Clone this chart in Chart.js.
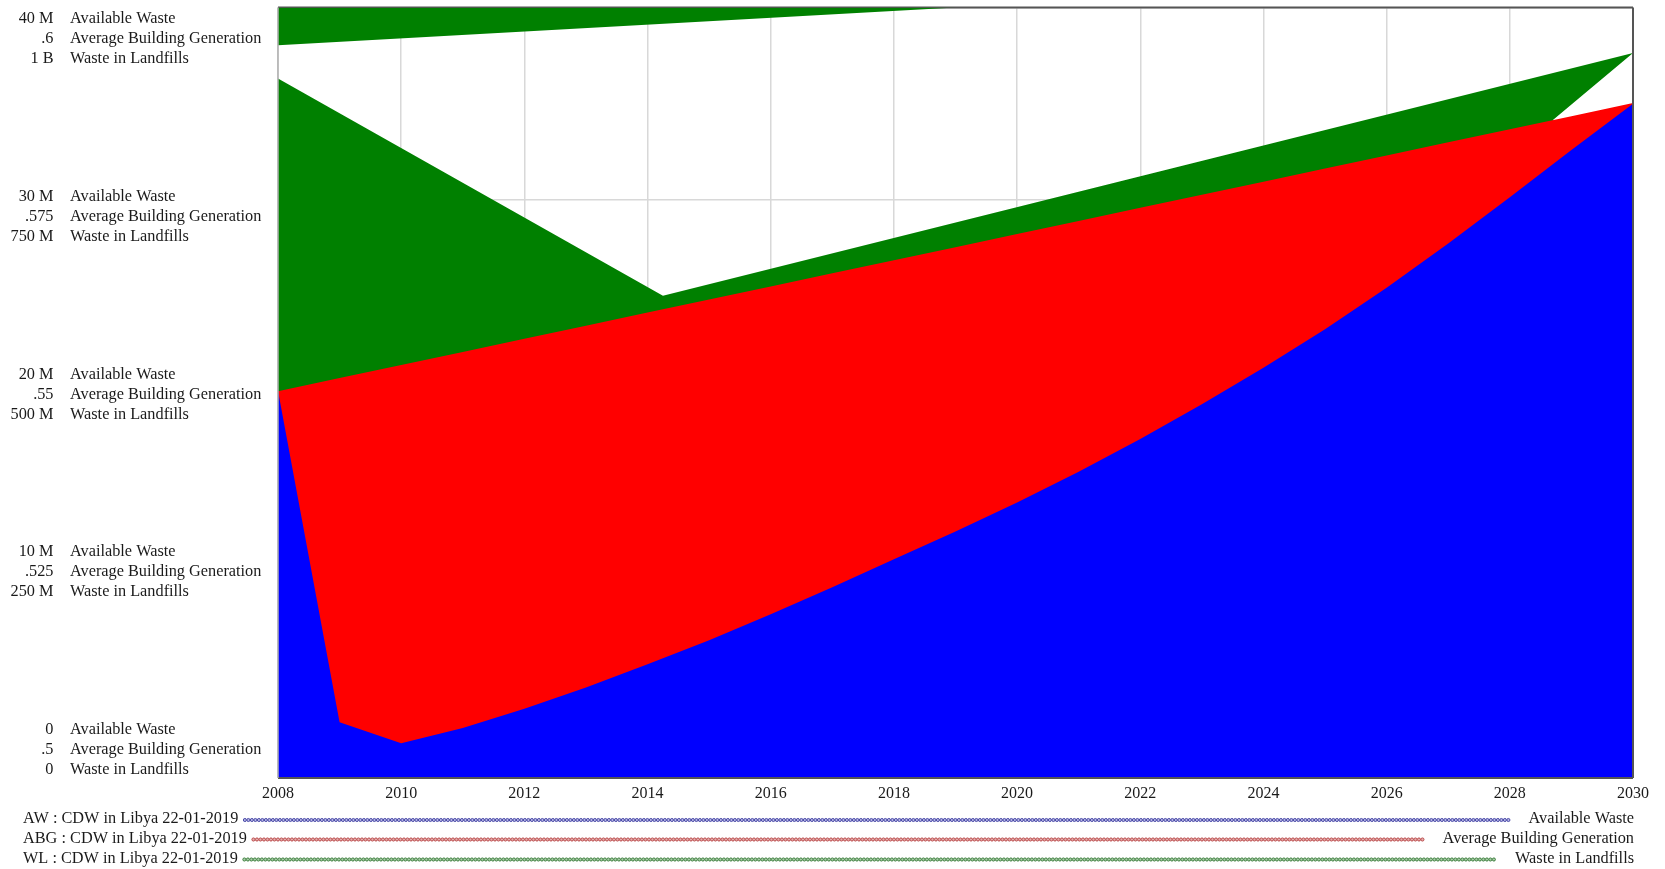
<!DOCTYPE html>
<html>
<head>
<meta charset="utf-8">
<title>CDW in Libya</title>
<script src="https://cdn.jsdelivr.net/npm/chart.js@4.4.1/dist/chart.umd.min.js"></script>
<style>
  html, body { margin: 0; padding: 0; background: #fff; overflow: hidden; }
  canvas { display: block; }
</style>
</head>
<body>
<canvas id="chart" width="1665" height="869"></canvas>
<script>
// ---- Simulation output: CDW in Libya, run 22-01-2019 ----
const years = [2008, 2009, 2010, 2011, 2012, 2013, 2014, 2015, 2016, 2017, 2018,
               2019, 2020, 2021, 2022, 2023, 2024, 2025, 2026, 2027, 2028, 2029, 2030];

// Available Waste (millions)
const availableWaste = [20.1, 2.9, 1.8, 2.6, 3.6, 4.7, 5.9, 7.15, 8.5, 9.9, 11.35,
                        12.8, 14.3, 15.9, 17.6, 19.4, 21.3, 23.3, 25.45, 27.75, 30.15, 32.6, 35.0];

// Average Building Generation
const avgBuildingGeneration = [0.5502, 0.5519, 0.5536, 0.5553, 0.5570, 0.5587, 0.5604, 0.5621,
                               0.5638, 0.5655, 0.5672, 0.5689, 0.5706, 0.5723, 0.5740, 0.5757,
                               0.5774, 0.5791, 0.5808, 0.5825, 0.5842, 0.5859, 0.5876];

// Waste in Landfills (billions)
const landfillYears = [2008, 2014.25, 2030];
const wasteInLandfills = [0.908, 0.626, 0.941];

// Waste in Landfills area that runs past the top of the 1 B scale
const landfillOverflowYears = [2008, 2019];
const landfillOverflow = [0.951, 1.0];

// Lower edge of the Waste in Landfills area near the end of the run
const landfillEdgeYears = [2008, 2028, 2028.7, 2030];
const landfillEdge = [0, 0, 0.854, 0.941];

// Axis ticks
const xTickValues = [2008, 2010, 2012, 2014, 2016, 2018, 2020, 2022, 2024, 2026, 2028, 2030];
const xTickLabels = ['2008', '2010', '2012', '2014', '2016', '2018', '2020', '2022', '2024', '2026', '2028', '2030'];
const awTickValues = [0, 10, 20, 30, 40];
const awTicks = ['0', '10 M', '20 M', '30 M', '40 M'];
const abgTicks = ['.5', '.525', '.55', '.575', '.6'];
const wlTicks = ['0', '250 M', '500 M', '750 M', '1 B'];

const seriesNames = ['Available Waste', 'Average Building Generation', 'Waste in Landfills'];
const runLabels = ['AW : CDW in Libya 22-01-2019', 'ABG : CDW in Libya 22-01-2019', 'WL : CDW in Libya 22-01-2019'];

const BLUE = '#0000ff', RED = '#ff0000', GREEN = '#008000';
const TEXT = '#1a1a1a';
const FONT = '"Liberation Serif", "Times New Roman", serif';
const LABEL_SIZE = 16.3;

const pts = (xs, ys) => xs.map((x, i) => ({ x, y: ys[i] }));

// Stacked tick labels for the three value scales, plus the plot frame
const axisLabels = {
  id: 'axisLabels',
  beforeDatasetsDraw(chart) {
    const { ctx, chartArea: a } = chart;
    ctx.save();
    ctx.strokeStyle = '#555';
    ctx.lineWidth = 2;
    ctx.beginPath();
    ctx.moveTo(a.left, a.top); ctx.lineTo(a.right, a.top);
    ctx.stroke();
    ctx.restore();
  },
  afterDatasetsDraw(chart) {
    const { ctx, chartArea: a } = chart;
    ctx.save();
    ctx.strokeStyle = '#555';
    ctx.lineWidth = 2;
    ctx.beginPath();
    ctx.moveTo(a.right, a.top); ctx.lineTo(a.right, a.bottom);
    ctx.moveTo(a.left, a.bottom); ctx.lineTo(a.right, a.bottom);
    ctx.stroke();
    ctx.strokeStyle = '#b0b0b0';
    ctx.lineWidth = 1.5;
    ctx.beginPath();
    ctx.moveTo(a.left, a.top); ctx.lineTo(a.left, a.bottom);
    ctx.stroke();
    ctx.restore();
  },
  afterDraw(chart) {
    const ctx = chart.ctx;
    const y = chart.scales.y;
    const n = awTickValues.length - 1;
    const groupH = 60, lead = 11.5, gap = 20;
    ctx.save();
    ctx.font = LABEL_SIZE + 'px ' + FONT;
    ctx.fillStyle = TEXT;
    ctx.textBaseline = 'middle';
    for (let i = 0; i <= n; i++) {
      const gy = y.getPixelForValue(awTickValues[i]);
      const f = (n - i) / n;
      const first = gy - f * groupH + lead;
      const vals = [awTicks[i], abgTicks[i], wlTicks[i]];
      vals.forEach((v, k) => {
        ctx.textAlign = 'right';
        ctx.fillText(v, 53.5, first + k * gap);
        ctx.textAlign = 'left';
        ctx.fillText(seriesNames[k], 70, first + k * gap);
      });
    }
    ctx.restore();
  }
};

// Run legend: run name, dotted line, variable name
const runLegend = {
  id: 'runLegend',
  afterDraw(chart) {
    const ctx = chart.ctx;
    const rows = [819, 838.5, 858.5];
    const dotStroke = ['#4a4aa8', '#b84646', '#3a7c3a'];
    const dotFill = ['#b4b4e2', '#e6b0b0', '#aacfaa'];
    const rightEdge = 1634;
    ctx.save();
    ctx.font = LABEL_SIZE + 'px ' + FONT;
    ctx.textBaseline = 'middle';
    rows.forEach((ry, k) => {
      ctx.fillStyle = TEXT;
      ctx.textAlign = 'left';
      ctx.fillText(runLabels[k], 23, ry);
      const start = 23 + ctx.measureText(runLabels[k]).width + 5;
      ctx.textAlign = 'right';
      ctx.fillText(seriesNames[k], rightEdge, ry);
      const end = rightEdge - ctx.measureText(seriesNames[k]).width - 20;
      ctx.lineWidth = 1;
      ctx.strokeStyle = dotStroke[k];
      ctx.fillStyle = dotFill[k];
      for (let x = start + 1.6; x <= end; x += 3.5) {
        ctx.beginPath();
        ctx.arc(x, ry + 1, 1.55, 0, Math.PI * 2);
        ctx.fill();
        ctx.stroke();
      }
    });
    ctx.restore();
  }
};

const gridStyle = { color: '#d8d8d8', lineWidth: 1.5, drawTicks: false };

new Chart(document.getElementById('chart'), {
  type: 'line',
  data: {
    datasets: [
      { label: seriesNames[0], data: pts(years, availableWaste), yAxisID: 'y',
        backgroundColor: BLUE, borderColor: BLUE, fill: 'start' },
      { label: seriesNames[1], data: pts(years, avgBuildingGeneration), yAxisID: 'y2',
        backgroundColor: RED, borderColor: RED, fill: 'start' },
      { label: seriesNames[2], data: pts(landfillYears, wasteInLandfills), yAxisID: 'y3',
        backgroundColor: GREEN, borderColor: GREEN, fill: '+1' },
      { label: 'edge', data: pts(landfillEdgeYears, landfillEdge), yAxisID: 'y3',
        backgroundColor: 'rgba(0,0,0,0)', borderColor: 'rgba(0,0,0,0)', fill: false },
      { label: 'overflow', data: pts(landfillOverflowYears, landfillOverflow), yAxisID: 'y3',
        backgroundColor: GREEN, borderColor: GREEN, fill: 'end' }
    ]
  },
  options: {
    responsive: false,
    animation: false,
    devicePixelRatio: 1,
    layout: { padding: { left: 278, right: 32, top: 7.5, bottom: 67 } },
    plugins: { legend: { display: false }, tooltip: { enabled: false } },
    elements: {
      point: { radius: 0, hoverRadius: 0 },
      line: { borderWidth: 0, tension: 0 }
    },
    scales: {
      x: {
        type: 'linear', min: 2008, max: 2030,
        afterBuildTicks(s) { s.ticks = xTickValues.map(v => ({ value: v })); },
        afterFit(s) { s.height = 24; },
        ticks: {
          padding: 6.5, autoSkip: false, maxRotation: 0, color: TEXT,
          font: { family: FONT, size: 16 },
          callback: (v, i) => xTickLabels[i]
        },
        grid: gridStyle,
        border: { display: false }
      },
      y: {
        min: 0, max: 40,
        afterBuildTicks(s) { s.ticks = awTickValues.map(v => ({ value: v })); },
        afterFit(s) { s.width = 0; },
        ticks: { display: false },
        grid: gridStyle,
        border: { display: false }
      },
      y2: { display: false, min: 0.5, max: 0.6 },
      y3: { display: false, min: 0, max: 1 }
    }
  },
  plugins: [axisLabels, runLegend]
});
</script>
</body>
</html>
